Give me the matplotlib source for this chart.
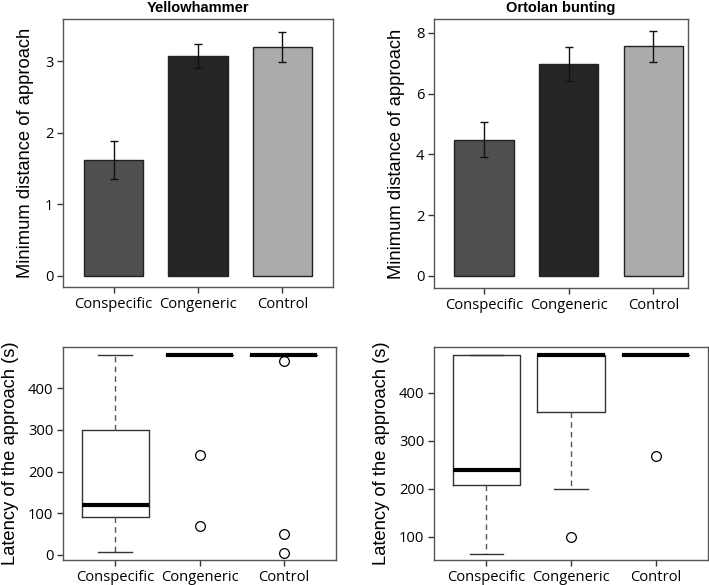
import matplotlib
matplotlib.use("Agg")
import matplotlib.pyplot as plt
import numpy as np

W, H = 709, 585
plt.rcParams['font.family'] = ['Liberation Sans', 'DejaVu Sans']

categories = ["Conspecific", "Congeneric", "Control"]
bar_colors = ["#4f4f4f", "#252525", "#ababab"]

# Minimum distance of approach (mean, SE)
yh_mean = [1.62, 3.07, 3.20]
yh_se = [0.26, 0.165, 0.215]
ob_mean = [4.48, 6.97, 7.55]
ob_se = [0.58, 0.55, 0.50]

# Latency boxplot stats: Yellowhammer
yh_q1 = [90, 480, 480]
yh_med = [120, 480, 480]
yh_q3 = [300, 480, 480]
yh_wlo = [7, 480, 480]
yh_whi = [480, 480, 480]
yh_fliers = [[], [240, 70], [466, 50, 5]]

# Latency boxplot stats: Ortolan bunting
ob_q1 = [208, 360, 480]
ob_med = [240, 480, 480]
ob_q3 = [480, 480, 480]
ob_wlo = [65, 200, 480]
ob_whi = [480, 480, 480]
ob_fliers = [[], [100], [268]]

fig = plt.figure(figsize=(W / 100, H / 100), dpi=100)


def rect(l, r, t, b):
    return [l / W, 1 - b / H, (r - l) / W, (b - t) / H]


spine_col = "#555555"


def style(ax):
    for s in ax.spines.values():
        s.set_color(spine_col)
        s.set_linewidth(1.0)
    ax.tick_params(direction='out', length=4, width=1, color='#333333',
                   labelsize=10.6, pad=3)
    for lab in ax.get_xticklabels() + ax.get_yticklabels():
        lab.set_fontfamily(['Open Sans', 'DejaVu Sans'])


def barpanel(r, means, se, ylim, yticks, title):
    ax = fig.add_axes(rect(*r))
    x = np.arange(len(categories))
    ax.bar(x, means, width=0.7, color=bar_colors, edgecolor='#222222',
           linewidth=1.0, zorder=2)
    ax.errorbar(x, means, yerr=se, fmt='none', ecolor='#111111',
                elinewidth=1.0, capsize=3.2, capthick=1.0, zorder=3)
    ax.set_ylim(*ylim)
    ax.set_yticks(yticks)
    ax.set_xticks(x)
    ax.set_xticklabels(categories)
    ax.set_ylabel("Minimum distance of approach", fontsize=13.2, labelpad=8)
    ax.set_title(title, fontsize=10.5, fontweight='bold', pad=5)
    style(ax)
    return ax


def boxpanel(r, q1, med, q3, wlo, whi, fliers, ylim, yticks):
    ax = fig.add_axes(rect(*r))
    stats = []
    for i in range(len(categories)):
        stats.append(dict(q1=q1[i], med=med[i], q3=q3[i], whislo=wlo[i],
                          whishi=whi[i], fliers=fliers[i], label=categories[i]))
    ax.bxp(stats, positions=[1, 2, 3], widths=0.8, showfliers=True,
           boxprops=dict(color='#333333', linewidth=1.0),
           medianprops=dict(color='black', linewidth=3.0, solid_capstyle='butt'),
           whiskerprops=dict(color='#555555', linewidth=1.0, linestyle=(0, (4, 3))),
           capprops=dict(color='#333333', linewidth=1.0),
           capwidths=0.4,
           flierprops=dict(marker='o', markerfacecolor='white',
                           markeredgecolor='black', markersize=7,
                           markeredgewidth=0.9))
    ax.set_xlim(0.38, 3.62)
    ax.set_ylim(*ylim)
    ax.set_yticks(yticks)
    ax.set_ylabel("Latency of the approach (s)", fontsize=13.2, labelpad=6)
    style(ax)
    return ax


ax1 = barpanel((63, 333, 19, 287), yh_mean, yh_se, (-0.154, 3.59),
               [0, 1, 2, 3], "Yellowhammer")
ax1.set_xlim(-0.6, 2.6)
ax2 = barpanel((434, 688, 19, 288), ob_mean, ob_se, (-0.395, 8.45),
               [0, 2, 4, 6, 8], "Ortolan bunting")
ax2.set_xlim(-0.59, 2.41)

boxpanel((63, 336, 347, 560), yh_q1, yh_med, yh_q3, yh_wlo, yh_whi, yh_fliers,
         (-12, 498.5), [0, 100, 200, 300, 400])
boxpanel((434, 708, 347, 560), ob_q1, ob_med, ob_q3, ob_wlo, ob_whi, ob_fliers,
         (51.5, 495.8), [100, 200, 300, 400])

fig.savefig("out.png", dpi=100)
